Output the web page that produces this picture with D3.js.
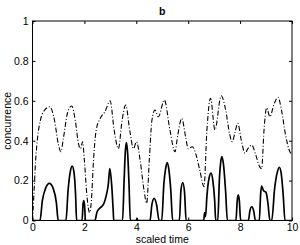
<!DOCTYPE html>
<html><head><meta charset="utf-8">
<script src="https://cdn.jsdelivr.net/npm/d3@7"></script>
<style>body{margin:0;background:#fff}svg{display:block}text{font-family:"Liberation Sans",Arial,sans-serif}</style>
</head><body><div id="c"></div>
<script>
const xTicks = [0,2,4,6,8,10];
const yTicks = [0,0.2,0.4,0.6,0.8,1];
const yTickLabels = ["0","0.2","0.4","0.6","0.8","1"];
const title = "b";
const xLabel = "scaled time";
const yLabel = "concurrence";

// dash-dot series (t, value)
const dashT = [0,0.05,0.12,0.2,0.3,0.45,0.67,0.85,1.0,1.09,1.2,1.35,1.51,1.65,1.78,1.85,1.93,2.0,2.1,2.2,2.27,2.35,2.45,2.6,2.79,2.99,3.15,3.31,3.45,3.59,3.75,3.89,4.01,4.15,4.3,4.4,4.5,4.6,4.72,4.85,5.08,5.3,5.49,5.6,5.75,5.9,6.0,6.16,6.3,6.45,6.61,6.72,6.86,7.03,7.27,7.45,7.6,7.7,7.8,7.91,8.05,8.19,8.3,8.45,8.6,8.75,8.83,8.92,9.02,9.15,9.3,9.46,9.6,9.75,9.9,10];
const dashV = [0.0,0.12,0.3,0.42,0.5,0.55,0.57,0.5,0.38,0.345,0.42,0.54,0.574,0.5,0.38,0.36,0.395,0.3,0.12,0.04,0.1,0.3,0.45,0.51,0.545,0.6,0.45,0.36,0.5,0.579,0.45,0.36,0.395,0.3,0.15,0.086,0.3,0.5,0.554,0.52,0.604,0.45,0.345,0.43,0.512,0.42,0.36,0.37,0.33,0.25,0.17,0.45,0.613,0.454,0.625,0.55,0.43,0.395,0.44,0.487,0.4,0.337,0.36,0.378,0.33,0.27,0.26,0.45,0.565,0.52,0.58,0.617,0.55,0.43,0.35,0.33];

// solid series (t, value)
const solidT = [0,0.29,0.38,0.5,0.65,0.8,0.92,0.99,1.29,1.37,1.45,1.53,1.6,1.66,1.7,1.91,1.95,1.98,2.01,2.04,2.41,2.48,2.56,2.65,2.75,2.85,2.92,2.98,3.05,3.11,3.13,3.47,3.53,3.58,3.62,3.67,3.72,3.77,4.0,4.03,4.06,4.53,4.6,4.69,4.78,4.88,4.98,5.06,5.13,5.19,5.26,5.33,5.4,5.66,5.72,5.79,5.86,5.92,6.6,6.63,6.67,6.72,6.8,6.88,6.95,7.02,7.06,7.14,7.2,7.25,7.3,7.36,7.44,7.51,7.84,7.89,7.93,7.97,8.02,8.32,8.38,8.45,8.52,8.59,8.74,8.79,8.83,8.9,9.0,9.07,9.15,9.22,9.33,9.43,9.51,9.58,9.66,9.73,10];
const solidV = [0,0,0.1,0.16,0.186,0.16,0.09,0,0,0.15,0.24,0.273,0.24,0.13,0,0,0.085,0.1,0.07,0,0,0.04,0.058,0.068,0.085,0.13,0.18,0.26,0.18,0.05,0,0,0.2,0.35,0.39,0.33,0.18,0,0,0.01,0,0,0.08,0.111,0.08,0,0,0.18,0.26,0.29,0.25,0.15,0,0,0.15,0.19,0.14,0,0,0.04,0.02,0.12,0.21,0.237,0.2,0.1,0,0,0.2,0.29,0.32,0.28,0.15,0,0,0.1,0.128,0.1,0,0,0.05,0.069,0.05,0,0,0.13,0.173,0.15,0.14,0.09,0,0,0.16,0.24,0.267,0.24,0.13,0,0];

const W=300,H=245;
const m={l:32.5,r:8,t:21,b:24.5};
const svg=d3.select("#c").append("svg").attr("width",W).attr("height",H);
const x=d3.scaleLinear().domain([0,10]).range([m.l,W-m.r]);
const y=d3.scaleLinear().domain([0,1]).range([H-m.b,m.t]);

const g=svg.append("g");
svg.append("clipPath").attr("id","cp").append("rect")
  .attr("x",x(0)).attr("y",y(1)).attr("width",x(10)-x(0)).attr("height",y(0)-y(1));

const line=d3.line().x(d=>x(d[0])).y(d=>y(d[1])).curve(d3.curveMonotoneX);
const dash=dashT.map((t,i)=>[t,dashV[i]]);
const solid=solidT.map((t,i)=>[t,solidV[i]]);

g.append("path").attr("clip-path","url(#cp)").attr("d",line(dash)).attr("fill","none")
  .attr("stroke","#000").attr("stroke-width",1.1).attr("stroke-dasharray","5,2,1,2");
g.append("path").attr("clip-path","url(#cp)").attr("d",line(solid)).attr("fill","none")
  .attr("stroke","#000").attr("stroke-width",1.7).attr("stroke-linejoin","round");

const tl=3, fs=10.5;
svg.append("g").attr("transform",`translate(0,${y(0)})`)
  .call(d3.axisBottom(x).tickValues(xTicks).tickSize(-tl).tickPadding(3.5).tickFormat(d3.format("d")))
  .call(a=>{a.select(".domain").remove();a.selectAll("text").attr("font-size",fs).attr("dy","0.71em");});
svg.append("g").attr("transform",`translate(0,${y(1)})`)
  .call(d3.axisTop(x).tickValues(xTicks).tickSize(-tl).tickFormat(""))
  .call(a=>a.select(".domain").remove());
svg.append("g").attr("transform",`translate(${x(0)},0)`)
  .call(d3.axisLeft(y).tickValues(yTicks).tickSize(-tl).tickPadding(4).tickFormat((d,i)=>yTickLabels[i]))
  .call(a=>{a.select(".domain").remove();a.selectAll("text").attr("font-size",fs);});
svg.append("g").attr("transform",`translate(${x(10)},0)`)
  .call(d3.axisRight(y).tickValues(yTicks).tickSize(-tl).tickFormat(""))
  .call(a=>a.select(".domain").remove());
svg.append("rect").attr("x",x(0)).attr("y",y(1)).attr("width",x(10)-x(0)).attr("height",y(0)-y(1))
  .attr("fill","none").attr("stroke","#000").attr("stroke-width",1);

svg.append("text").attr("x",(x(0)+x(10))/2).attr("y",15).attr("text-anchor","middle")
  .attr("font-size",fs).attr("font-weight","bold").text(title);
svg.append("text").attr("x",(x(0)+x(10))/2).attr("y",243).attr("text-anchor","middle")
  .attr("font-size",fs).text(xLabel);
svg.append("text").attr("transform",`translate(11,${(y(0)+y(1))/2}) rotate(-90)`).attr("text-anchor","middle")
  .attr("font-size",fs).text(yLabel);
</script></body></html>
